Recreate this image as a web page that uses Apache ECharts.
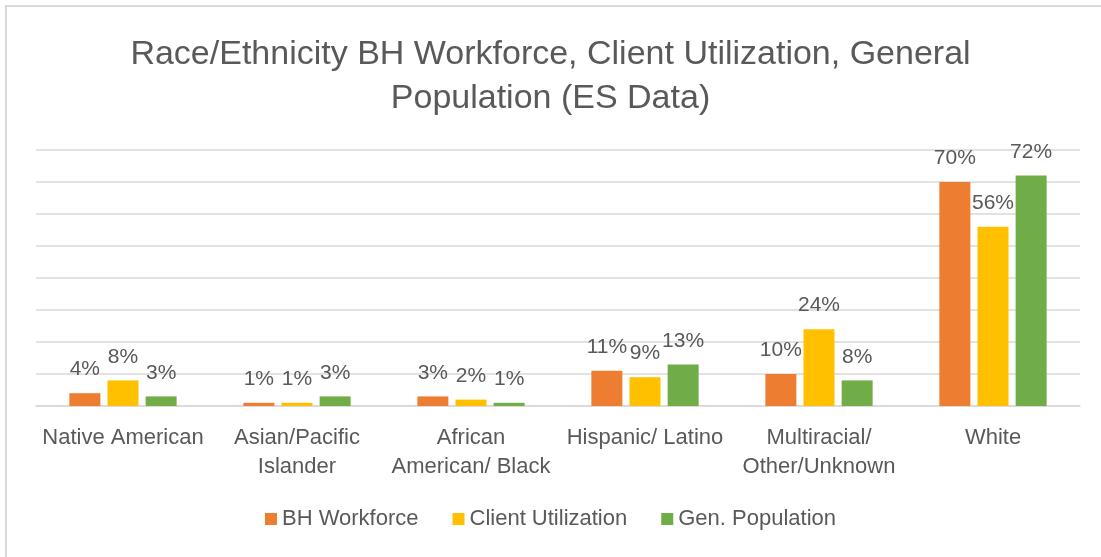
<!DOCTYPE html>
<html>
<head>
<meta charset="utf-8">
<script src="https://cdn.jsdelivr.net/npm/echarts@6/dist/echarts.min.js"></script>
<style>
  html, body { margin: 0; padding: 0; background: #fff; }
  #frame { position: absolute; left: 5px; top: 5px; width: 1200px; height: 700px;
           border-top: 2px solid #d9d9d9; border-left: 2px solid #d9d9d9; }
  #chart { position: absolute; left: 0; top: 0; width: 1101px; height: 557px; }
</style>
</head>
<body>
<div id="frame"></div>
<div id="chart"></div>
<script>
// 数据
const categories = ['Native American', 'Asian/Pacific\nIslander', 'African\nAmerican/ Black',
  'Hispanic/ Latino', 'Multiracial/\nOther/Unknown', 'White'];
const seriesNames = ['BH Workforce', 'Client Utilization', 'Gen. Population'];
const bhWorkforce = [4, 1, 3, 11, 10, 70];
const clientUtil = [8, 1, 2, 9, 24, 56];
const genPopulation = [3, 3, 1, 13, 8, 72];
const colors = ['#ED7D31', '#FFC000', '#70AD47'];

const font = '"Liberation Sans", Arial, sans-serif';
const textColor = '#595959';

const chart = echarts.init(document.getElementById('chart'));

const makeSeries = (name, data, color) => ({
  name: name,
  type: 'bar',
  data: data,
  barWidth: 31,
  barGap: '23%',
  itemStyle: { color: color },
  label: {
    show: true,
    position: 'top',
    distance: 13,
    formatter: '{c}%',
    color: textColor,
    fontFamily: font,
    fontSize: 21
  }
});

const option = {
  animation: false,
  title: {
    text: 'Race/Ethnicity BH Workforce, Client Utilization, General\nPopulation (ES Data)',
    left: 'center',
    top: 28,
    textStyle: {
      fontFamily: font,
      fontSize: 34,
      fontWeight: 'normal',
      color: textColor,
      lineHeight: 44
    }
  },
  legend: {
    data: seriesNames,
    bottom: 22,
    left: 'center',
    itemWidth: 12,
    itemHeight: 12,
    itemGap: 34,
    icon: 'rect',
    textStyle: { fontFamily: font, fontSize: 22, color: textColor }
  },
  grid: { left: 36, right: 21, top: 150, bottom: 151, containLabel: false },
  xAxis: {
    type: 'category',
    data: categories,
    axisTick: { show: false },
    axisLine: { lineStyle: { color: '#d9d9d9', width: 1.5 } },
    axisLabel: {
      interval: 0,
      margin: 17,
      fontFamily: font,
      fontSize: 22,
      lineHeight: 29,
      color: textColor
    }
  },
  yAxis: {
    type: 'value',
    min: 0,
    max: 80,
    interval: 10,
    axisLabel: { show: false },
    axisLine: { show: false },
    axisTick: { show: false },
    splitLine: { lineStyle: { color: '#d9d9d9', width: 1.5 } }
  },
  series: [
    makeSeries(seriesNames[0], bhWorkforce, colors[0]),
    makeSeries(seriesNames[1], clientUtil, colors[1]),
    makeSeries(seriesNames[2], genPopulation, colors[2])
  ]
};

chart.setOption(option);
</script>
</body>
</html>
